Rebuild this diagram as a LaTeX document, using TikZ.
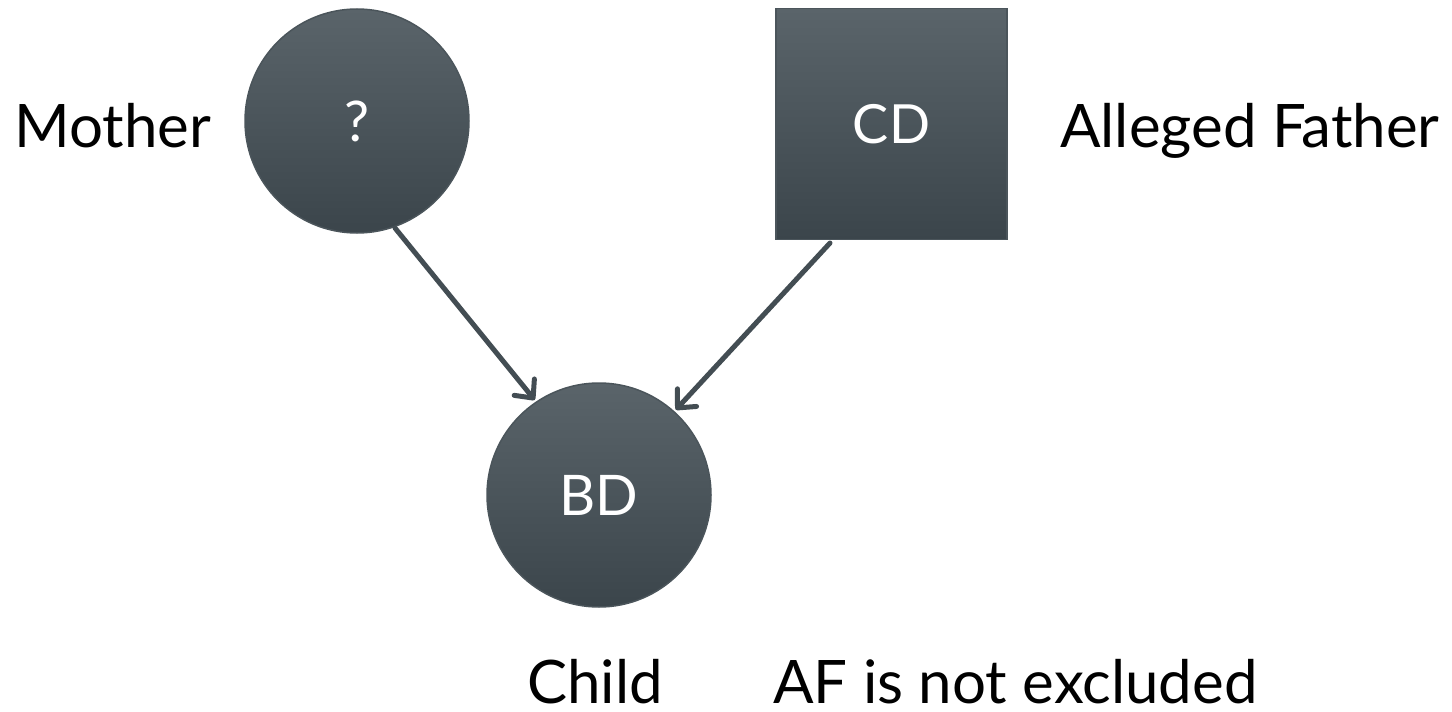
\documentclass[tikz,border=0pt]{standalone}
\usepackage{fontspec}
\setmainfont{Lato}
\usetikzlibrary{arrows.meta}
\definecolor{topc}{HTML}{5A646A}
\definecolor{botc}{HTML}{3B454B}
\definecolor{edgec}{HTML}{4B555B}
\definecolor{linec}{HTML}{434D53}
\tikzset{
  person/.style={top color=topc, bottom color=botc, draw=edgec, line width=1.5pt, inner sep=0pt, text=white},
  female/.style={person, circle, minimum size=224pt},
  male/.style={person, rectangle, minimum size=231pt},
  lbl/.style={anchor=base west, inner sep=0pt, text=black, font=\fontsize{60}{66}\selectfont},
  link/.style={draw=linec, line width=5pt, line cap=round, -{Straight Barb[length=14pt,width=26pt,line width=5pt,round]}, shorten >=2pt}
}
\begin{document}
\begin{tikzpicture}[x=1pt,y=-1pt]
\useasboundingbox (0,0) rectangle (1452,712);
\node[female] (mother) at (357,121) {\fontsize{56}{60}\selectfont ?};
\node[male] (father) at (891.5,124) {\fontsize{54}{60}\selectfont CD};
\node[female] (child) at (599,495) {\fontsize{56}{60}\selectfont BD};
\node[lbl] (mlbl) at (14,147) {Mother};
\node[lbl] (flbl) at (1060,147) {Alleged Father};
\node[lbl] (clbl) at (527,703) {Child};
\node[lbl] (res) at (773,703) {AF is not excluded};
\coordinate (ms) at (395,228);
\coordinate (fs) at (830,243);
\draw[link] (ms) -- (child.124);
\draw[link] (fs) -- (child.48);
\end{tikzpicture}
\end{document}
